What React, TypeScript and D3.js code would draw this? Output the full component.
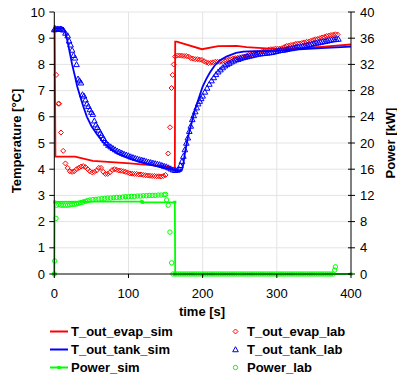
import React from 'react';
import * as d3 from 'd3';

const width = 397;
const height = 375;
const plot = { left: 54.3, right: 351, top: 12, bottom: 274 };
const font = 'Liberation Sans, Arial, sans-serif';

const timeTicks = [0, 100, 200, 300, 400];
const tempTicks = [0, 1, 2, 3, 4, 5, 6, 7, 8, 9, 10];
const powerTicks = [0, 4, 8, 12, 16, 20, 24, 28, 32, 36, 40];

// [time s, temperature °C]
const evapSim = [
  [0.5, 9.5], [1.5, 4.48], [28, 4.48], [52, 4.32], [102, 4.22], [153, 4.1], [162.5, 3.97],
  [163, 8.87], [165, 8.87], [199, 8.58], [221, 8.7], [246, 8.71], [259, 8.66], [291, 8.6],
  [304, 8.59], [330, 8.62], [360, 8.67], [400, 8.76],
];

const tankSim = [
  [0, 9.38], [12, 9.38], [14, 9.3], [16, 9.1], [18, 8.85], [21, 8.43], [24, 8.0], [28, 7.53],
  [31, 7.15], [35, 6.77], [39, 6.4], [44, 6.0], [50, 5.65], [57, 5.35], [65, 5.05], [75, 4.8],
  [85, 4.6], [100, 4.42], [115, 4.28], [130, 4.17], [145, 4.07], [160, 3.98], [168, 3.95],
  [172, 3.97], [174, 4.2], [176, 4.6], [180, 5.2], [185, 5.75], [189, 6.2], [193, 6.55],
  [197, 6.9], [200, 7.15], [205, 7.45], [210, 7.7], [216, 7.95], [223, 8.15], [232, 8.3],
  [245, 8.44], [255, 8.49], [270, 8.51], [300, 8.52], [330, 8.57], [360, 8.62], [400, 8.68],
];

// [time s, power kW]
const powerSim = [
  [0, 0], [0.5, 11.0], [40, 11.05], [118, 11.05], [119, 10.95], [162.5, 10.95], [163, 0], [400, 0],
];

const evapLab = [
  [0, 9.3], [2.5, 7.6], [5.5, 6.5], [6.5, 6.5], [9, 5.4], [12, 4.7], [15, 4.22], [18, 4.05],
  [21, 3.92], [24, 3.9], [27, 3.92], [30, 4.0], [33, 4.05], [36, 4.1], [39, 4.12], [42, 4.08],
  [45, 4.0], [48, 3.92], [51, 3.88], [54, 3.9], [57, 3.95], [60, 4.05], [63, 4.05], [66, 3.9],
  [69, 3.82], [72, 3.82], [75, 3.88], [78, 3.97], [81, 4.0], [84, 3.98], [87, 3.95], [90, 3.94],
  [93, 3.92], [96, 3.9], [99, 3.87], [102, 3.84], [105, 3.83], [108, 3.82], [111, 3.82],
  [114, 3.8], [117, 3.8], [120, 3.78], [123, 3.77], [126, 3.76], [129, 3.75], [132, 3.74],
  [135, 3.74], [138, 3.73], [141, 3.73], [144, 3.72], [147, 3.74], [150, 3.78], [153.5, 4.6],
  [156, 5.6], [158, 7.1], [159.5, 7.6], [161, 8.0], [163, 8.3], [166, 8.34], [169, 8.34],
  [172, 8.33], [175, 8.32], [178, 8.32], [181, 8.3], [184, 8.24], [187, 8.22], [190, 8.2],
  [193, 8.2], [196, 8.18], [199, 8.17], [202, 8.12], [205, 8.08], [208, 8.05], [211, 8.06],
  [214, 8.08], [217, 8.1], [220, 8.1], [223, 8.1], [226, 8.12], [229, 8.14], [232, 8.16],
  [235, 8.18], [238, 8.2], [241, 8.22], [244, 8.24], [247, 8.25], [250, 8.27], [253, 8.28],
  [256, 8.3], [259, 8.32], [262, 8.36], [265, 8.38], [268, 8.4], [271, 8.42], [274, 8.44],
  [277, 8.45], [280, 8.48], [283, 8.5], [286, 8.52], [289, 8.56], [292, 8.58], [295, 8.58],
  [298, 8.6], [301, 8.6], [304, 8.6], [307, 8.62], [310, 8.66], [313, 8.7], [316, 8.72],
  [319, 8.74], [322, 8.75], [325, 8.78], [328, 8.8], [331, 8.8], [334, 8.82], [337, 8.84],
  [340, 8.86], [343, 8.87], [346, 8.9], [349, 8.93], [352, 8.96], [355, 8.97], [358, 9.0],
  [361, 9.03], [364, 9.05], [367, 9.08], [370, 9.1], [373, 9.12], [376, 9.13], [379, 9.15],
  [382, 9.14],
];

const tankLab = [
  [0, 9.33], [2, 9.35], [4, 9.36], [6, 9.35], [8, 9.36], [10, 9.35], [12, 9.32], [15, 9.2],
  [18, 9.1], [20, 8.9], [22, 8.75], [24, 8.55], [26, 8.35], [28, 8.25], [30, 8.0], [32, 7.45],
  [34, 7.38], [36, 7.3], [38, 6.85], [40, 6.8], [42, 6.65], [44, 6.5], [46, 6.4], [48, 6.28],
  [50, 6.18], [52, 6.1], [54, 5.85], [56, 5.7], [58, 5.6], [60, 5.5], [62, 5.38], [64, 5.3],
  [66, 5.18], [68, 5.1], [70, 5.0], [73, 4.92], [76, 4.86], [79, 4.8], [82, 4.75], [85, 4.7],
  [88, 4.66], [91, 4.62], [94, 4.58], [97, 4.55], [100, 4.52], [103, 4.48], [106, 4.45],
  [109, 4.42], [112, 4.4], [115, 4.37], [118, 4.35], [121, 4.33], [124, 4.3], [127, 4.28],
  [130, 4.26], [133, 4.24], [136, 4.22], [139, 4.2], [142, 4.18], [145, 4.15], [148, 4.12],
  [151, 4.1], [154, 4.06], [157, 4.02], [160, 3.98], [163, 3.96], [166, 3.97], [168, 4.0],
  [170, 4.15], [172, 4.3], [174, 4.5], [176, 4.75], [178, 5.0], [180, 5.2], [182, 5.45],
  [184, 5.65], [186, 5.9], [188, 6.05], [190, 6.2], [192, 6.35], [194, 6.5], [196, 6.6],
  [198, 6.7], [200, 6.8], [203, 6.95], [206, 7.1], [209, 7.25], [212, 7.38], [215, 7.5],
  [218, 7.62], [221, 7.72], [224, 7.8], [227, 7.88], [230, 7.95], [233, 8.0], [236, 8.05],
  [239, 8.1], [242, 8.14], [245, 8.18], [248, 8.2], [251, 8.23], [254, 8.26], [257, 8.28],
  [260, 8.3], [263, 8.32], [266, 8.34], [269, 8.36], [272, 8.38], [275, 8.4], [278, 8.41],
  [281, 8.42], [284, 8.43], [287, 8.44], [290, 8.45], [293, 8.46], [296, 8.48], [299, 8.5],
  [302, 8.52], [305, 8.54], [308, 8.55], [311, 8.56], [314, 8.58], [317, 8.6], [320, 8.61],
  [323, 8.63], [326, 8.65], [329, 8.67], [332, 8.68], [335, 8.7], [338, 8.72], [341, 8.74],
  [344, 8.76], [347, 8.78], [350, 8.8], [353, 8.82], [356, 8.83], [359, 8.85], [362, 8.87],
  [365, 8.88], [368, 8.9], [371, 8.92], [374, 8.94], [377, 8.95], [380, 8.96], [383, 8.97],
];

const powerLab = [
  [0, 0], [0.5, 2.0], [2.3, 8.5], [3, 10.5], [6, 10.6], [9, 10.5], [12, 10.5], [15, 10.5],
  [18, 10.5], [21, 10.55], [24, 10.6], [27, 10.65], [30, 10.7], [33, 10.8], [36, 10.9],
  [39, 11.0], [42, 11.1], [45, 11.2], [48, 11.3], [52, 11.35], [56, 11.4], [60, 11.45],
  [64, 11.5], [68, 11.55], [72, 11.6], [76, 11.6], [80, 11.65], [84, 11.7], [88, 11.7],
  [92, 11.75], [96, 11.8], [100, 11.8], [104, 11.85], [108, 11.85], [112, 11.9], [116, 11.9],
  [120, 11.95], [124, 11.95], [128, 12.0], [132, 12.0], [136, 12.0], [140, 12.05], [144, 12.05],
  [148, 12.1], [150, 12.15], [151.5, 11.3], [153.6, 10.5], [155.9, 6.4], [158.2, 1.7],
  [160, 0], [163, 0], [166, 0], [169, 0], [172, 0], [175, 0], [178, 0], [181, 0], [184, 0],
  [187, 0], [190, 0], [193, 0], [196, 0], [199, 0], [202, 0], [205, 0], [208, 0], [211, 0],
  [214, 0], [217, 0], [220, 0], [223, 0], [226, 0], [229, 0], [232, 0], [235, 0], [238, 0],
  [241, 0], [244, 0], [247, 0], [250, 0], [253, 0], [256, 0], [259, 0], [262, 0], [265, 0],
  [268, 0], [271, 0], [274, 0], [277, 0], [280, 0], [283, 0], [286, 0], [289, 0], [292, 0],
  [295, 0], [298, 0], [301, 0], [304, 0], [307, 0], [310, 0], [313, 0], [316, 0], [319, 0],
  [322, 0], [325, 0], [328, 0], [331, 0], [334, 0], [337, 0], [340, 0], [343, 0], [346, 0],
  [349, 0], [352, 0], [355, 0], [358, 0], [361, 0], [364, 0], [367, 0], [370, 0], [373, 0],
  [376, 0], [378, 0.6], [379, 1.1],
];

const red = '#ff0000';
const blue = '#0000ff';
const green = '#00ff00';

const legendLeft = [
  { label: 'T_out_evap_sim', color: red, square: false },
  { label: 'T_out_tank_sim', color: blue, square: false },
  { label: 'Power_sim', color: green, square: true },
];
const legendRight = [
  { label: 'T_out_evap_lab', color: red, shape: 'diamond' },
  { label: 'T_out_tank_lab', color: blue, shape: 'triangle' },
  { label: 'Power_lab', color: green, shape: 'circle' },
];

const x = d3.scaleLinear().domain([0, 400]).range([plot.left, plot.right]);
const yT = d3.scaleLinear().domain([0, 10]).range([plot.bottom, plot.top]);
const yP = d3.scaleLinear().domain([0, 40]).range([plot.bottom, plot.top]);

function Marker({ shape, cx, cy, color }) {
  if (shape === 'diamond') {
    const s = 2.5;
    return <path d={`M${cx},${cy - s}L${cx + s},${cy}L${cx},${cy + s}L${cx - s},${cy}Z`} fill="none" stroke={color} strokeWidth={1} />;
  }
  if (shape === 'triangle') {
    const s = 2.8;
    return <path d={`M${cx},${cy - s}L${cx + s},${cy + s * 0.8}L${cx - s},${cy + s * 0.8}Z`} fill="none" stroke={color} strokeWidth={1} />;
  }
  return <circle cx={cx} cy={cy} r={2.2} fill="none" stroke={color} strokeWidth={1} />;
}

export default function App() {
  const lineT = d3.line().x(d => x(d[0])).y(d => yT(d[1]));
  const lineP = d3.line().x(d => x(d[0])).y(d => yP(d[1]));

  return (
    <div style={{ position: 'absolute', left: 0, top: 0 }}>
      <svg width={width} height={height} style={{ display: 'block', background: '#fff' }} fontFamily={font}>
        {/* grid */}
        {tempTicks.filter(t => t > 0).map(t => (
          <line key={'gy' + t} x1={plot.left} x2={plot.right} y1={yT(t)} y2={yT(t)} stroke="#e4e4e4" strokeWidth={1} />
        ))}
        {timeTicks.filter(t => t > 0 && t < 400).map(t => (
          <line key={'gx' + t} x1={x(t)} x2={x(t)} y1={plot.top} y2={plot.bottom} stroke="#e4e4e4" strokeWidth={1} />
        ))}

        {/* series */}
        <path d={lineT(evapSim)} fill="none" stroke={red} strokeWidth={1.8} />
        {evapLab.map((d, i) => <Marker key={'el' + i} shape="diamond" cx={x(d[0])} cy={yT(d[1])} color={red} />)}
        <path d={lineT(tankSim)} fill="none" stroke={blue} strokeWidth={1.8} />
        {tankLab.map((d, i) => <Marker key={'tl' + i} shape="triangle" cx={x(d[0])} cy={yT(d[1])} color={blue} />)}
        <path d={lineP(powerSim)} fill="none" stroke={green} strokeWidth={1.8} />
        {powerSim.map((d, i) => (
          <rect key={'ps' + i} x={x(d[0]) - 1.5} y={yP(d[1]) - 1.5} width={3} height={3} fill={green} />
        ))}
        {powerLab.map((d, i) => <Marker key={'pl' + i} shape="circle" cx={x(d[0])} cy={yP(d[1])} color={green} />)}

        {/* axes */}
        <line x1={plot.left} x2={plot.left} y1={plot.top} y2={plot.bottom} stroke="#000" />
        <line x1={plot.right} x2={plot.right} y1={plot.top} y2={plot.bottom} stroke="#000" />
        <line x1={plot.left} x2={plot.right} y1={plot.bottom} y2={plot.bottom} stroke="#000" />
        {tempTicks.map(t => (
          <g key={'lt' + t}>
            <line x1={plot.left - 5} x2={plot.left} y1={yT(t)} y2={yT(t)} stroke="#000" />
            <text x={45} y={yT(t)} dy="0.35em" textAnchor="end" fontSize={13}>{t}</text>
          </g>
        ))}
        {powerTicks.map(t => (
          <g key={'rt' + t}>
            <line x1={plot.right - 3} x2={plot.right + 4} y1={yP(t)} y2={yP(t)} stroke="#000" />
            <text x={360} y={yP(t)} dy="0.35em" textAnchor="start" fontSize={13}>{t}</text>
          </g>
        ))}
        {timeTicks.map(t => (
          <g key={'bt' + t}>
            <line x1={x(t)} x2={x(t)} y1={plot.bottom} y2={plot.bottom + 4} stroke="#000" />
            <text x={x(t)} y={298} textAnchor="middle" fontSize={13}>{t}</text>
          </g>
        ))}

        {/* titles */}
        <text transform="translate(21,141) rotate(-90)" textAnchor="middle" fontSize={13} fontWeight="bold">Temperature [°C]</text>
        <text transform="translate(395,143) rotate(-90)" textAnchor="middle" fontSize={13} fontWeight="bold">Power [kW]</text>
        <text x={202} y={316} textAnchor="middle" fontSize={13} fontWeight="bold">time [s]</text>

        {/* legend */}
        {legendLeft.map((d, i) => {
          const ly = 331.5 + i * 18;
          return (
            <g key={'ll' + i}>
              <line x1={50} x2={68} y1={ly} y2={ly} stroke={d.color} strokeWidth={2} />
              {d.square && <rect x={57.5} y={ly - 1.5} width={3} height={3} fill={d.color} />}
              <text x={71} y={ly + 4.3} fontSize={13} fontWeight="bold">{d.label}</text>
            </g>
          );
        })}
        {legendRight.map((d, i) => {
          const ly = 331.5 + i * 18;
          return (
            <g key={'lr' + i}>
              <Marker shape={d.shape} cx={235.5} cy={ly} color={d.color} />
              <text x={247} y={ly + 4.3} fontSize={13} fontWeight="bold">{d.label}</text>
            </g>
          );
        })}
      </svg>
    </div>
  );
}
